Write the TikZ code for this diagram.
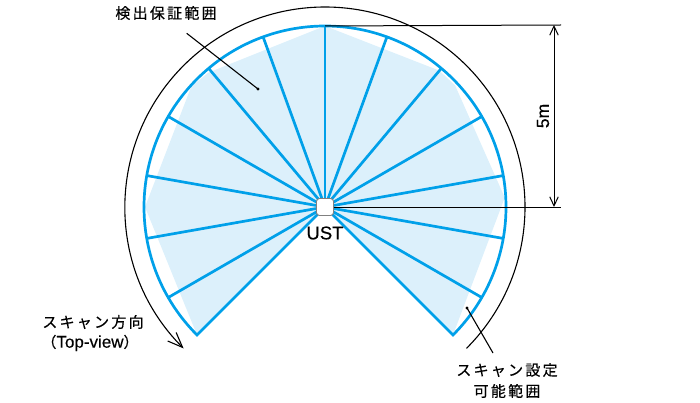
\documentclass[tikz,border=0pt]{standalone}
\usepackage{fontspec}
\newfontfamily\cjk[LetterSpace=15,FakeBold=0.4]{Noto Sans CJK JP}
\newfontfamily\latin[FakeBold=0.3]{Liberation Sans}
\usetikzlibrary{arrows.meta,calc}
\definecolor{ublue}{RGB}{0,160,233}
\definecolor{ufill}{RGB}{220,240,251}
\begin{document}
\begin{tikzpicture}[x=1pt,y=1pt,
  spoke/.style={ublue, line width=2.7pt},
  thinline/.style={black, line width=1.1pt},
  jtext/.style={font=\cjk\fontsize{15}{18}\selectfont, inner sep=0pt},
  ltext/.style={font=\latin\fontsize{18.5}{21}\selectfont, inner sep=0pt},
  ustbox/.style={draw=gray, line width=0.9pt, fill=white, rounded corners=3pt, minimum size=17pt, inner sep=0pt},
  dotend/.style={black}
]
\useasboundingbox (0,0) rectangle (700,402);
\coordinate (C) at (325,195);
% light fill polygon
\fill[ufill] (C) -- ([shift={(225:181)}]C) -- ([shift={(180:180)}]C) -- ([shift={(138:180)}]C)
  -- ([shift={(131:178)}]C) -- ([shift={(90:181)}]C) -- ([shift={(50:178)}]C)
  -- ([shift={(43:178)}]C) -- ([shift={(3:180)}]C) -- ([shift={(-45:181)}]C) -- cycle;
% spokes
\foreach \a in {-30,-10,...,210} \draw[spoke] (C) -- ([shift={(\a:181)}]C);
% fan outline
\draw[spoke, line join=miter] (C) -- ([shift={(225:181)}]C) arc[start angle=225, end angle=-45, radius=181] -- cycle;
% scan direction arc
\draw[thinline, -{Straight Barb[length=15pt,width=12pt]}] ([shift={(-45:200)}]C) arc[start angle=-45, end angle=225, radius=200];
% sensor
\node[ustbox] (ust) at (C) {};
\node[ltext] (ustlabel) at (325,169) {UST};
% dimension
\coordinate (rimtop) at ([shift={(90:181)}]C);
\coordinate (dtopend) at (561,377);
\coordinate (dbotend) at (561,195);
\coordinate (dtop) at (554,377);
\coordinate (dbot) at (554,195);
\draw[black, line width=1pt] (rimtop) -- (dtopend);
\draw[black, line width=1pt] (ust.east) -- (dbotend);
\draw[black, line width=1pt, {Straight Barb[length=9pt,width=8.5pt]}-{Straight Barb[length=9pt,width=8.5pt]}] (dtop) -- (dbot);
\node[ltext, rotate=90, font=\latin\fontsize{17.5}{20}\selectfont] (dim) at (543,286) {5m};
% labels
\node[jtext] (lab1) at (166,389) {検出保証範囲};
\coordinate (l1a) at (186.7,368.7);
\coordinate (l1b) at (258,313);
\draw[thinline] (l1a) -- (l1b);
\fill[dotend] (l1b) circle (1.6);
\node[jtext] (lab2) at (93,80) {スキャン方向};
\node[inner sep=0pt] (lab3) at (90,59) {{\cjk\fontsize{15}{18}\selectfont （}{\latin\fontsize{17}{20}\selectfont Top-view}{\cjk\fontsize{15}{18}\selectfont ）}};
\node[jtext] (lab4) at (507,32) {スキャン設定};
\node[jtext] (lab5) at (507,11) {可能範囲};
\coordinate (l2a) at (493,49);
\coordinate (l2b) at (467,94);
\draw[thinline] (l2a) -- (l2b);
\fill[dotend] (l2b) circle (1.6);
\end{tikzpicture}
\end{document}
